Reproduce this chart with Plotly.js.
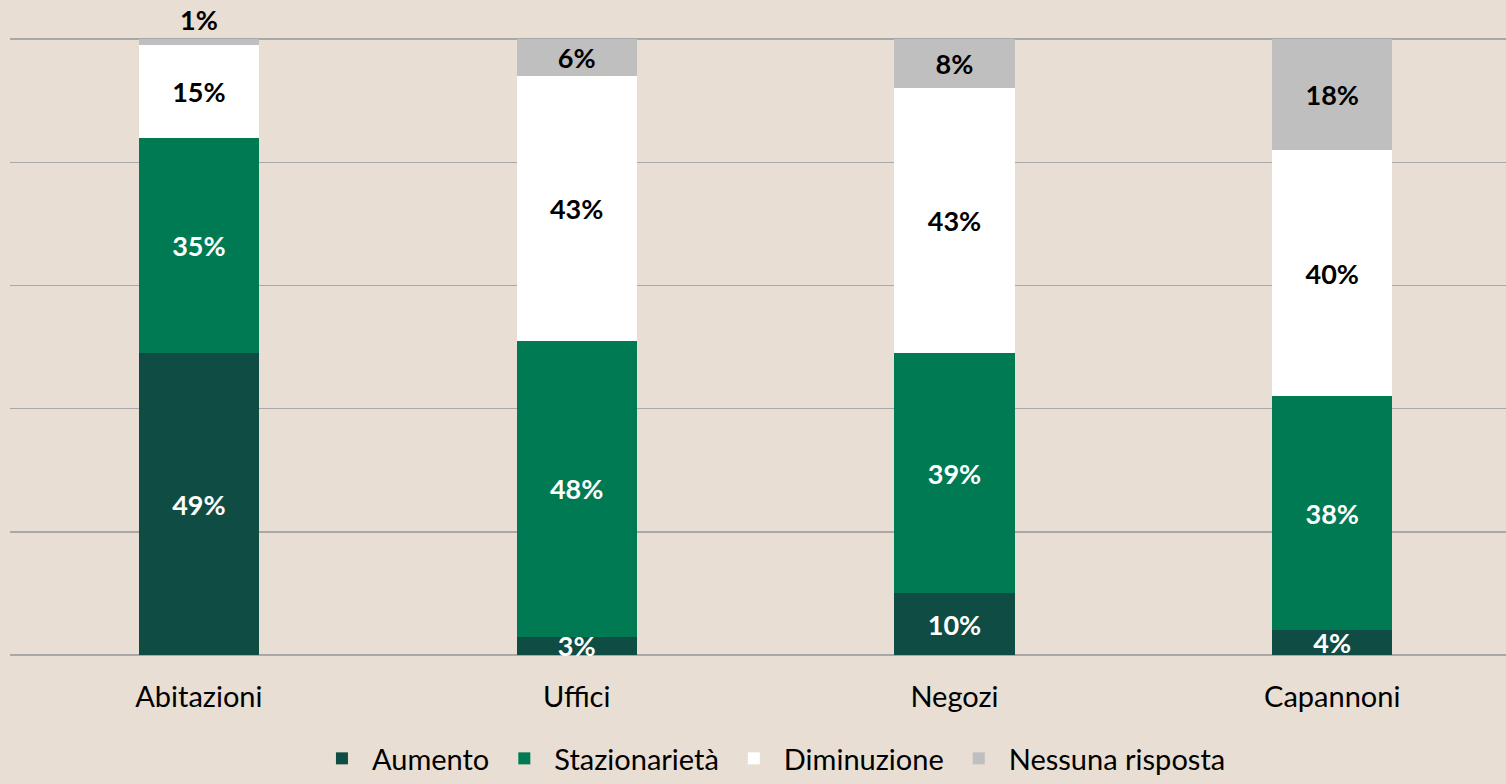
<!DOCTYPE html>
<html>
<head>
<meta charset="utf-8">
<script src="https://cdn.plot.ly/plotly-3.0.1.min.js"></script>
<style>
  html, body { margin: 0; padding: 0; background: #E8DED3; }
  #chart { width: 1506px; height: 784px; }
</style>
</head>
<body>
<div id="chart"></div>
<script>
const categories = ['Abitazioni', 'Uffici', 'Negozi', 'Capannoni'];
const aumento = [49, 3, 10, 4];
const stazionarieta = [35, 48, 39, 38];
const diminuzione = [15, 43, 43, 40];
const nessunaRisposta = [1, 6, 8, 18];

const labelFont = {family: 'Lato, "Open Sans", sans-serif', size: 27, weight: 'bold'};

function series(name, values, color, textColor, positions) {
    return {
        x: categories,
        y: values,
        type: 'bar',
        name: name,
        marker: {color: color},
        text: values.map(v => v + '%'),
        texttemplate: '<b>%{text}</b>',
        textposition: positions || 'inside',
        insidetextanchor: 'middle',
        constraintext: 'none',
        textangle: 0,
        cliponaxis: false,
        textfont: Object.assign({}, labelFont, {color: textColor}),
        insidetextfont: Object.assign({}, labelFont, {color: textColor}),
        outsidetextfont: Object.assign({}, labelFont, {color: textColor}),
        hoverinfo: 'skip'
    };
}

const data = [
    series('Aumento', aumento, '#0F4D44', '#FFFFFF'),
    series('Stazionarietà', stazionarieta, '#007A53', '#FFFFFF'),
    series('Diminuzione', diminuzione, '#FFFFFF', '#000000'),
    series('Nessuna risposta', nessunaRisposta, '#BFBFBF', '#000000',
        ['outside', 'inside', 'inside', 'inside'])
];

const layout = {
    barmode: 'stack',
    bargap: 0.682,
    width: 1506,
    height: 784,
    paper_bgcolor: '#E8DED3',
    plot_bgcolor: '#E8DED3',
    margin: {l: 10, r: 0, t: 38, b: 129, autoexpand: false},
    font: {family: 'Lato, "Open Sans", sans-serif', color: '#000000'},
    xaxis: {
        type: 'category',
        range: [-0.5, 3.46],
        showgrid: false,
        showline: false,
        zeroline: false,
        ticks: '',
        tickfont: {size: 29, color: '#000000'},
        ticklabelstandoff: 22
    },
    yaxis: {
        range: [0, 100.2],
        tickvals: [0, 20, 40, 60, 80, 100],
        showgrid: true,
        gridcolor: '#A8A8A8',
        gridwidth: 1.5,
        zeroline: true,
        zerolinecolor: '#A8A8A8',
        zerolinewidth: 1.5,
        showticklabels: false,
        ticks: ''
    },
    showlegend: true,
    legend: {
        orientation: 'h',
        x: 0.509,
        xanchor: 'center',
        yref: 'container',
        y: 0,
        yanchor: 'bottom',
        font: {size: 29, color: '#000000'},
        bgcolor: 'rgba(0,0,0,0)',
        itemwidth: 50,
        traceorder: 'normal'
    }
};

Plotly.newPlot('chart', data, layout, {displayModeBar: false, staticPlot: true});
</script>
</body>
</html>
